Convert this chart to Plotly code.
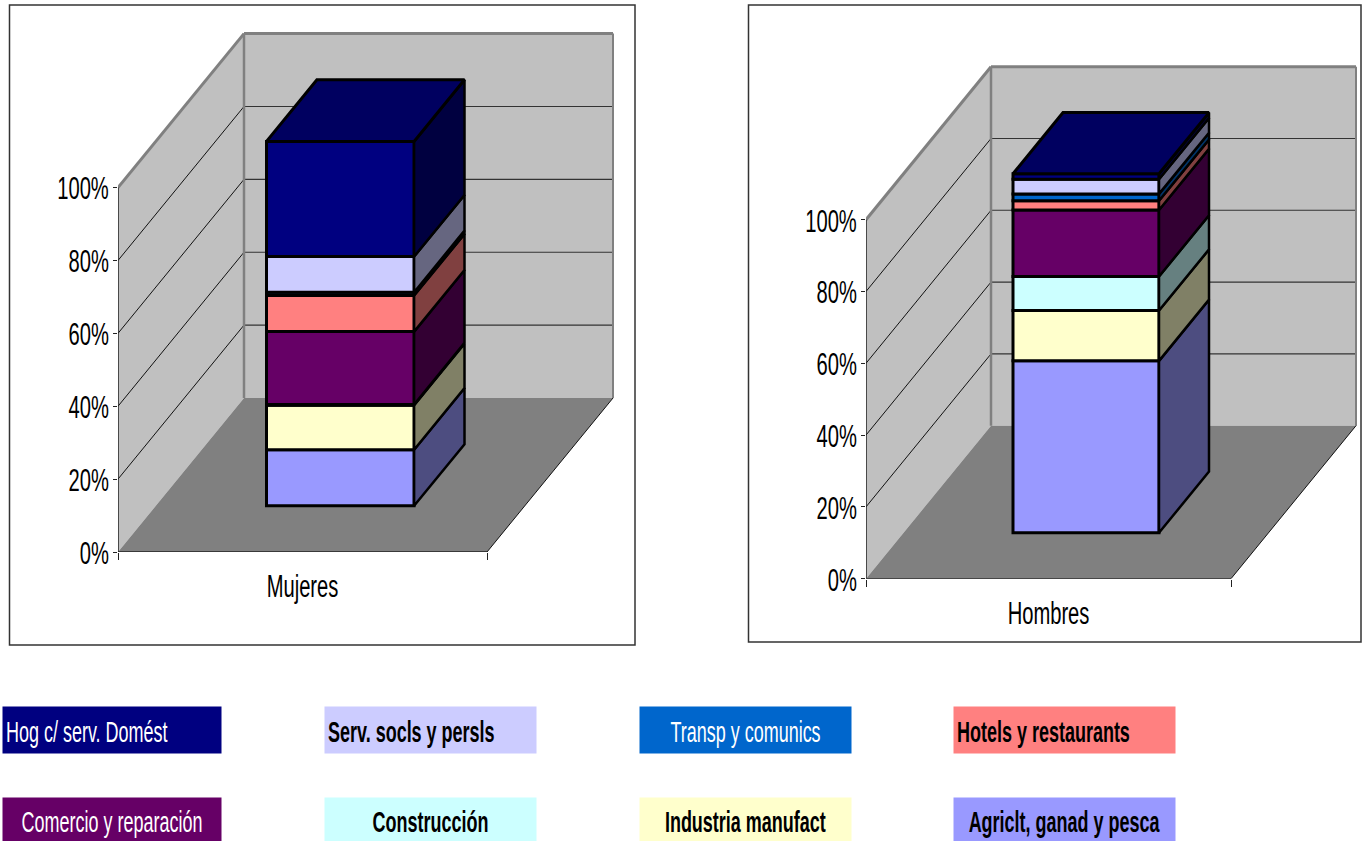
import plotly.graph_objects as go

# Stacked shares, bottom to top
SECTORS = ["Agriclt, ganad y pesca", "Industria manufact", "Construcción", "Comercio y reparación",
           "Hotels y restaurants", "Transp y comunics", "Serv. socls y persls", "Hog c/ serv. Domést"]
MUJERES = [15.4, 12.2, 0.2, 20.0, 9.9, 0.9, 9.8, 31.6]
HOMBRES = [47.9, 14.0, 9.5, 18.5, 2.6, 1.9, 4.1, 1.5]
FRONT_COLORS = ["#9999FF", "#FFFFCC", "#CCFFFF", "#660066", "#FF8080", "#0066CC", "#CCCCFF", "#000080"]
SIDE_COLORS = ["#4D4D80", "#808066", "#668080", "#330033", "#804040", "#003366", "#666680", "#000040"]
TOP_COLOR = "#000060"
Y_TICKS = [0, 20, 40, 60, 80, 100]
Y_LABELS = ["0%", "20%", "40%", "60%", "80%", "100%"]

W, H = 1364, 841
FONT = "Liberation Sans, Arial, sans-serif"
AXIS_SIZE = 31
LEG_SIZE = 29
AXIS_SQUEEZE = 0.65
KEY_SQUEEZE = 0.62

fig = go.Figure()


def paper_x(p):
    return p / W


def paper_y(p):
    return 1 - p / H


def chart(idx, name, values, x0, x1, xd, ybase, y100, yback, box):
    """x0/x1: front floor edge px, xd: back-left px, ybase/y100: axis px, yback: back floor px."""
    suffix = "" if idx == 1 else str(idx)
    xa, ya = "x" + suffix, "y" + suffix
    xunit = x1 - x0
    yunit = (ybase - y100) / 100
    DX = (xd - x0) / xunit
    DY = (ybase - yback) / yunit
    pad = 4
    xmax = 1 + DX + pad / xunit
    ymax = 100 + DY + pad / yunit

    def path(points):
        return "M " + " L ".join(f"{a:.4f} {b:.4f}" for a, b in points) + " Z"

    def base_shape(**kw):
        return dict(xref=xa, yref=ya, layer="below", **kw)

    # walls and floor
    wall = "#C0C0C0"
    fig.add_shape(base_shape(type="path", fillcolor=wall, line=dict(width=0),
                             path=path([(DX, DY), (1 + DX, DY), (1 + DX, DY + 100), (DX, DY + 100)])))
    fig.add_shape(base_shape(type="path", fillcolor=wall, line=dict(width=0),
                             path=path([(0, 0), (DX, DY), (DX, DY + 100), (0, 100)])))
    fig.add_shape(base_shape(type="path", fillcolor="#808080", line=dict(width=0),
                             path=path([(0, 0), (1, 0), (1 + DX, DY), (DX, DY)])))
    # gridlines
    for t in Y_TICKS[1:-1]:
        fig.add_shape(base_shape(type="line", x0=0, y0=t, x1=DX, y1=t + DY, line=dict(color="#111111", width=1)))
        fig.add_shape(base_shape(type="line", x0=DX, y0=t + DY, x1=1 + DX, y1=t + DY, line=dict(color="#333333", width=1.1)))
    # wall edges
    edge = "#808080"
    for (a, b, c, d, w) in [(0, 100, DX, 100 + DY, 3), (DX, 100 + DY, 1 + DX, 100 + DY, 3),
                            (DX, DY, DX, 100 + DY, 2.5), (1 + DX, DY, 1 + DX, 100 + DY, 2)]:
        fig.add_shape(base_shape(type="line", x0=a, y0=b, x1=c, y1=d, line=dict(color=edge, width=w)))
    fig.add_shape(base_shape(type="line", x0=1, y0=0, x1=1 + DX, y1=DY, line=dict(color="#111111", width=1)))

    # axis lines limited to the 0-100 span
    fig.add_trace(go.Scatter(x=[0, 0, 1], y=[100, 0, 0], mode="lines", cliponaxis=False, xaxis=xa, yaxis=ya,
                             line=dict(color="#222222", width=1.5), hoverinfo="skip", showlegend=False))

    # bar geometry in axis units
    d0, d1 = 0.3, 0.7
    bw = 0.4
    xl = 0.5 - bw / 2 + d0 * DX
    xr = xl + bw
    cum = 0
    for label, v, fc, sc in zip(SECTORS, values, FRONT_COLORS, SIDE_COLORS):
        fig.add_trace(go.Bar(x=[xl + bw / 2], y=[v], base=[cum + d0 * DY], width=bw, name=label, xaxis=xa, yaxis=ya,
                             marker=dict(color=fc, line=dict(color="black", width=3)), showlegend=False))
        b, t = cum + d0 * DY, cum + v + d0 * DY
        rise = (d1 - d0) * DY
        run = (d1 - d0) * DX
        fig.add_trace(go.Scatter(x=[xr, xr + run, xr + run, xr, xr], y=[b, b + rise, t + rise, t, b],
                                 fill="toself", fillcolor=sc, mode="lines", line=dict(color="black", width=2.5),
                                 xaxis=xa, yaxis=ya, hoverinfo="skip", showlegend=False))
        cum += v
    top = cum + d0 * DY
    fig.add_trace(go.Scatter(x=[xl, xr, xr + run, xl + run, xl], y=[top, top, top + rise, top + rise, top],
                             fill="toself", fillcolor=TOP_COLOR, mode="lines", line=dict(color="black", width=3),
                             xaxis=xa, yaxis=ya, hoverinfo="skip", showlegend=False))

    fig.update_layout({
        ("xaxis" + suffix): dict(domain=[paper_x(x0), paper_x(x0 + xmax * xunit)], range=[0, xmax], anchor=ya,
                                 tickmode="array", tickvals=[0.5], ticktext=[name], ticks="", showgrid=False,
                                 zeroline=False, showline=False, ticklabelstandoff=13, automargin=False,
                                 tickfont=dict(family=FONT, size=AXIS_SIZE, color="black"),
                                 minor=dict(tickmode="array", tickvals=[0, 1], ticks="outside", ticklen=7,
                                            tickcolor="#222222", tickwidth=1.2, showgrid=False)),
        ("yaxis" + suffix): dict(domain=[paper_y(ybase), paper_y(ybase - ymax * yunit)], range=[0, ymax], anchor=xa,
                                 tickmode="array", tickvals=Y_TICKS, ticktext=Y_LABELS, ticks="outside", ticklen=4,
                                 tickcolor="#222222", tickwidth=1.2, showgrid=False, zeroline=False, showline=False,
                                 automargin=False,
                                 tickfont=dict(family=FONT, size=AXIS_SIZE, color="black")),
    })
    # chart frame
    fig.add_shape(type="rect", xref="paper", yref="paper", x0=paper_x(box[0]), x1=paper_x(box[2]),
                  y0=paper_y(box[1]), y1=paper_y(box[3]), line=dict(color="#333333", width=1.5), layer="below")


chart(1, "Mujeres", MUJERES, 118, 487, 244, 552, 187.6, 398, (9.5, 5, 635, 645))
chart(2, "Hombres", HOMBRES, 866, 1231, 991, 578.7, 219.7, 425.7, (748.5, 5, 1361, 642))

# colour-key boxes: (sector index, left, top, right, bottom, bold, align, text colour)
KEY = [
    (7, 2, 706, 220, 752, False, "left", "white"),
    (6, 324, 706, 535, 752, True, "left", "black"),
    (5, 639, 706, 850, 752, False, "center", "white"),
    (4, 953, 706, 1174, 752, True, "left", "black"),
    (3, 2, 797, 220, 841, False, "center", "white"),
    (2, 324, 797, 535, 841, True, "center", "black"),
    (1, 639, 797, 850, 841, True, "center", "black"),
    (0, 953, 797, 1174, 841, True, "center", "black"),
]
for i, l, t, r, b, bold, align, col in KEY:
    fig.add_annotation(xref="paper", yref="paper", x=paper_x(l), y=paper_y(t), xanchor="left", yanchor="top",
                       width=r - l - 6, height=b - t - 6, borderpad=3, bgcolor=FRONT_COLORS[i], text=SECTORS[i],
                       showarrow=False, align=align, valign="middle",
                       font=dict(family=FONT, size=LEG_SIZE, color=col, weight=700 if bold else 400))

fig.update_layout(template="none", width=W, height=H, autosize=False,
                  margin=dict(l=0, r=0, t=0, b=0, pad=0, autoexpand=False),
                  paper_bgcolor="white", plot_bgcolor="rgba(0,0,0,0)", barmode="overlay",
                  showlegend=False, hovermode=False)

SQUEEZE_JS = """
document.body.style.margin='0';document.body.style.overflow='hidden';
(function(){
  var gd=document.getElementById('{plot_id}');
  function fit(sel,k,dx,dy){
    gd.querySelectorAll(sel).forEach(function(t){
      if(t.getAttribute('textLength'))return;
      t.setAttribute('lengthAdjust','spacingAndGlyphs');
      t.setAttribute('textLength',t.getComputedTextLength()*k);
      t.setAttribute('dx',dx);t.setAttribute('dy',dy);
    });
  }
  function squeeze(){
    fit('g.ytick text,g.y2tick text',AXK,2,1);
    fit('g.xtick text,g.x2tick text',AXK,0,0);
    fit('text.annotation-text',KEYK,0,2);
  }
  squeeze();
  gd.on('plotly_afterplot',squeeze);
})();
""".replace("AXK", str(AXIS_SQUEEZE)).replace("KEYK", str(KEY_SQUEEZE))

fig.write_html("out.html", config={"displayModeBar": False}, post_script=SQUEEZE_JS)
